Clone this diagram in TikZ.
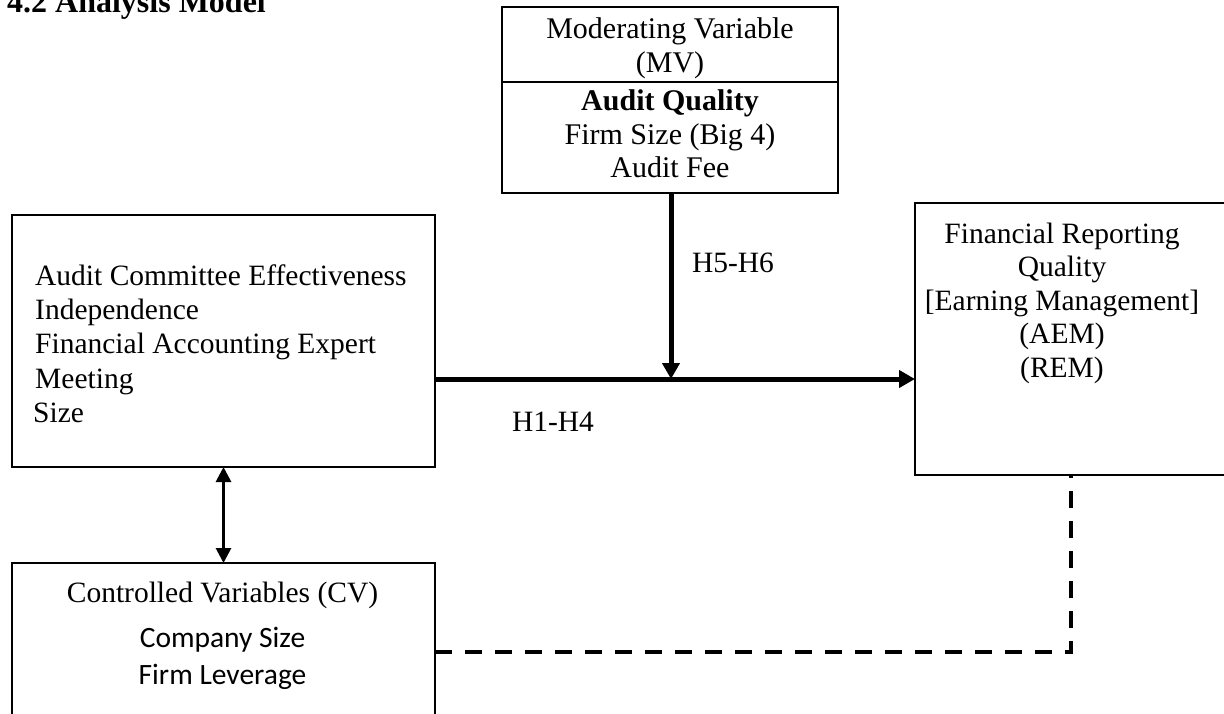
\documentclass[tikz,border=0pt]{standalone}
\usepackage{fontspec}
\setmainfont{Liberation Serif}
\newfontfamily\calibrifont{Carlito}
\usetikzlibrary{arrows.meta,positioning}

\begin{document}
\begin{tikzpicture}[x=1pt,y=-1pt,
    box/.style={draw, line width=1.8pt, inner sep=0pt, outer sep=0pt},
    txt/.style={font=\fontsize{29.5}{34.3}\selectfont, inner sep=0pt},
    mvtxt/.style={font=\fontsize{30}{34}\selectfont, inner sep=0pt, align=center},
    mainarrow/.style={line width=5pt, -{Triangle[length=16pt,width=17pt]}},
    linkarrow/.style={line width=2.8pt, {Triangle[length=15pt,width=15pt]}-{Triangle[length=15pt,width=15pt]}},
    ctrlline/.style={line width=3.8pt, dash pattern=on 17pt off 13pt}]
    \useasboundingbox (0,0) rectangle (1224,713);

    % Title (cut at the top edge)
    \node[anchor=base west, inner sep=0pt, font=\bfseries\fontsize{32}{36}\selectfont] (title) at (7,12) {4.2 Analysis Model};

    % Moderating variable
    \node[box, minimum width=336pt, minimum height=75pt] (mvhead) at (670,44.5) {};
    \node[box, minimum width=336pt, minimum height=111pt, below=0pt of mvhead] (mvbody) {};
    \node[mvtxt] (mvheadtext) at (670,48.5) {Moderating Variable\\(MV)};
    \node[mvtxt, font=\fontsize{30}{33.5}\selectfont] (mvbodytext) at (670,134) {\textbf{Audit Quality}\\Firm Size (Big 4)\\Audit Fee};

    % Independent variables
    \node[box, minimum width=423pt, minimum height=252pt] (ace) at (223.5,341) {};
    \node[txt, anchor=west, align=left] (acetext) at (35,343.5) {Audit Committee Effectiveness\\Independence\\Financial Accounting Expert\\Meeting\\\hspace*{-2pt}Size};

    % Dependent variable (runs past the right edge)
    \node[box, line width=1.1pt, minimum width=315pt, minimum height=272pt] (frq) at (1072.5,339) {};
    \node[txt, align=center, font=\fontsize{29.5}{33.5}\selectfont] (frqtext) at (1062,303) {Financial Reporting\\Quality\\{[Earning Management]}\\(AEM)\\(REM)};

    % Controlled variables
    \node[box, minimum width=423pt, minimum height=180pt] (cv) at (223.5,653) {};
    \node[txt] (cvhead) at (222.5,595) {Controlled Variables (CV)};
    \node[inner sep=0pt, align=center, font=\calibrifont\fontsize{29.5}{37}\selectfont] (cvlist) at (222.5,658.5) {Company Size\\Firm Leverage};

    % Hypotheses
    \coordinate (hub) at (671,379);
    \draw[mainarrow] (ace.east |- hub) -- (frq.west |- hub);
    \draw[mainarrow] (mvbody.south -| hub) -- (hub);
    \node[txt] (hmod) at (733,263) {H5-H6};
    \node[txt] (hmain) at (553,422) {H1-H4};

    % Links to the controls
    \draw[linkarrow] (ace.south) -- (cv.north);
    \coordinate (ctrlbend) at (1071,652);
    \draw[ctrlline] (cv.east |- ctrlbend) -- (ctrlbend) -- (frq.south -| ctrlbend);
\end{tikzpicture}
\end{document}
